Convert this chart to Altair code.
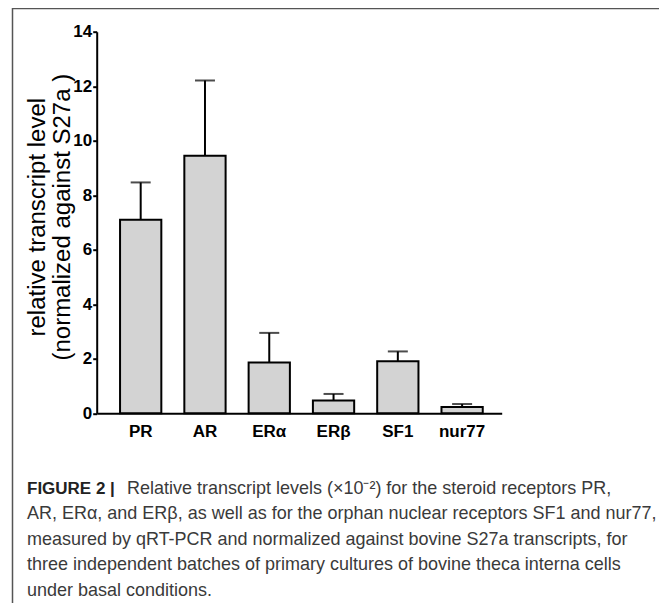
import altair as alt
import pandas as pd

# ---- data ----
categories = ["PR", "AR", "ERα", "ERβ", "SF1", "nur77"]
means = [7.10, 9.45, 1.86, 0.47, 1.91, 0.23]
sems = [1.37, 2.76, 1.09, 0.24, 0.36, 0.11]
y_ticks = [0, 2, 4, 6, 8, 10, 12, 14]
y_title = ["relative transcript level", "(normalized against S27a )"]
caption_bold = "FIGURE 2 |"
caption_lines = [
    "Relative transcript levels (×10⁻²) for the steroid receptors PR,",
    "AR, ERα, and ERβ, as well as for the orphan nuclear receptors SF1 and nur77,",
    "measured by qRT-PCR and normalized against bovine S27a transcripts, for",
    "three independent batches of primary cultures of bovine theca interna cells",
    "under basal conditions.",
]

FONT = "Liberation Sans"
ox, oy = 96.7, 31.7  # plot origin on the page
W, H = 405, 381.6

df = pd.DataFrame({"cat": categories, "mean": means, "sem": sems})
df["upper"] = df["mean"] + df["sem"]

x_axis = alt.Axis(
    title=None, labelAngle=0, ticks=False, domainColor="black", domainWidth=2,
    labelFont=FONT, labelFontSize=17, labelFontWeight="bold", labelColor="black",
    labelPadding=10,
)
x_scale = alt.Scale(paddingInner=0.358, paddingOuter=0.329, align=0.552)
y_scale = alt.Scale(domain=[0, 14], nice=False)
y_axis = alt.Axis(
    values=y_ticks, title=y_title, grid=False, domainColor="black", domainWidth=2,
    tickColor="black", tickWidth=2, tickSize=4, labelFont=FONT, labelFontSize=17,
    labelFontWeight="bold", labelColor="black", labelPadding=1,
    titleFont=FONT, titleFontSize=24, titleFontWeight="normal", titleColor="black",
    titleLineHeight=25, titleBaseline="middle", titleAlign="center", titleAngle=-90,
    titleX=37.5 - ox, titleY=185,
)

def X():
    return alt.X("cat:N", sort=categories, scale=x_scale, axis=x_axis)

base = alt.Chart(df)

rules = base.mark_rule(color="black", strokeWidth=2).encode(
    x=X(),
    y=alt.Y("mean:Q", scale=y_scale, axis=y_axis),
    y2="upper:Q",
)
caps = base.mark_tick(color="black", thickness=2, size=20).encode(
    x=X(),
    y=alt.Y("upper:Q", scale=y_scale, axis=y_axis),
)
bars = base.mark_bar(fill="#d3d3d3", stroke="black", strokeWidth=2).encode(
    x=X(),
    y=alt.Y("mean:Q", scale=y_scale, axis=y_axis),
)

one = pd.DataFrame({"k": [0]})

border = alt.Chart(one).mark_rect(
    fillOpacity=0, stroke="#555555", strokeWidth=1.5
).encode(
    x=alt.value(12.5 - ox), x2=alt.value(664.5 - ox),
    y=alt.value(8.5 - oy), y2=alt.value(640 - oy),
)

cap_layers = [
    alt.Chart(one).mark_text(
        text=caption_bold, align="left", baseline="alphabetic", font=FONT,
        fontSize=17, fontWeight="bold", color="#222222",
    ).encode(x=alt.value(27 - ox), y=alt.value(494 - oy))
]
for i, line in enumerate(caption_lines):
    cap_layers.append(
        alt.Chart(one).mark_text(
            text=line, align="left", baseline="alphabetic", font=FONT,
            fontSize=18, color="#3a3a3a",
        ).encode(
            x=alt.value((127 if i == 0 else 27) - ox),
            y=alt.value(494 + 25.5 * i - oy),
        )
    )

chart = alt.layer(border, rules, caps, bars, *cap_layers).properties(
    width=W, height=H,
    padding={"left": ox - 8, "top": oy - 8, "right": 667 - 8 - ox - W, "bottom": 190},
    autosize=alt.AutoSizeParams(type="none"),
).configure_view(stroke=None)

chart.save("out.html", embed_options={"renderer": "svg", "actions": False})
